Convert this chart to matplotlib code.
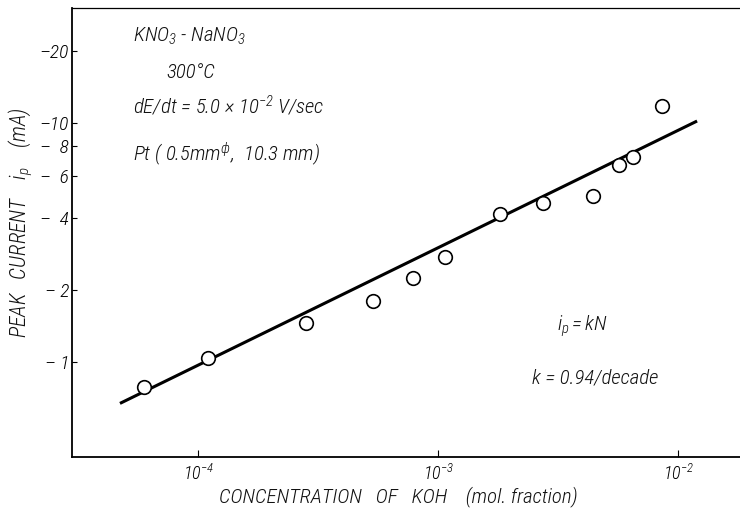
import matplotlib
matplotlib.use("Agg")
import matplotlib.pyplot as plt
from matplotlib import font_manager
from matplotlib.ticker import NullLocator

# Measured peak currents vs KOH concentration (KNO3-NaNO3 melt, 300 C)
koh_conc = [5.96e-5, 1.10e-4, 2.82e-4, 5.37e-4, 7.88e-4, 1.07e-3,
            1.82e-3, 2.73e-3, 4.42e-3, 5.69e-3, 6.51e-3, 8.61e-3]
peak_current = [0.79, 1.04, 1.46, 1.80, 2.24, 2.76,
                4.15, 4.64, 4.95, 6.67, 7.19, 11.8]

# Straight-line fit on the log-log plot
fit_conc = [4.73e-5, 1.20e-2]
fit_current = [0.672, 10.2]

y_ticks = [1, 2, 4, 6, 8, 10, 20]
y_tick_labels = ["\u2013 1", "\u2013 2", "\u2013  4", "\u2013  6", "\u2013  8",
                 "\u201310", "\u201320"]
x_ticks = [1e-4, 1e-3, 1e-2]
x_tick_labels = [r"$10^{-4}$", r"$10^{-3}$", r"$10^{-2}$"]

available = {f.name for f in font_manager.fontManager.ttflist}
family = "DejaVu Sans"
for cand in ["Liberation Sans Narrow", "Roboto Condensed", "Open Sans Condensed",
             "Liberation Sans"]:
    if cand in available:
        family = cand
        break

plt.rcParams.update({
    "font.family": [family, "DejaVu Sans"],
    "font.style": "italic",
    "font.weight": "light",
    "mathtext.fontset": "custom",
    "mathtext.rm": f"{family}:italic:light",
    "mathtext.it": f"{family}:italic:light",
    "mathtext.sf": f"{family}:italic:light",
})

W, H = 740, 511
fig = plt.figure(figsize=(W / 100, H / 100), dpi=100)
ax = fig.add_axes([72 / W, 54 / H, 668 / W, 449 / H])

ax.set_xscale("log")
ax.set_yscale("log")
ax.set_xlim(10 ** -4.525, 10 ** -1.742)
ax.set_ylim(0.401, 30.3)

ax.plot(fit_conc, fit_current, color="black", lw=2.2, solid_capstyle="butt", zorder=2)
ax.plot(koh_conc, peak_current, linestyle="none", marker="o", ms=9.8,
        mfc="white", mec="black", mew=1.2, zorder=3)

ax.xaxis.set_minor_locator(NullLocator())
ax.yaxis.set_minor_locator(NullLocator())
ax.set_xticks(x_ticks)
ax.set_xticklabels(x_tick_labels, fontsize=13)
ax.set_yticks(y_ticks)
ax.set_yticklabels(y_tick_labels, fontsize=14)
ax.tick_params(axis="x", direction="in", length=5, width=0.8, pad=5)
ax.tick_params(axis="y", direction="in", length=3.5, width=0.8, pad=2)

ax.spines["right"].set_visible(False)
for side in ("left", "bottom"):
    ax.spines[side].set_linewidth(1.3)
ax.spines["top"].set_linewidth(0.9)


def px(x, y):
    return x / W, 1 - y / H


txt = dict(ha="left", va="center", fontsize=15, color="#111111")
fig.text(*px(133, 36), r"KNO$_3$ - NaNO$_3$", **txt)
fig.text(*px(166, 73), "300\u00b0C", **txt)
fig.text(*px(133, 106), r"dE/dt = 5.0 $\times$ 10$^{-2}$ V/sec", **txt)
fig.text(*px(133, 154), r"Pt ( 0.5mm$^{\phi}$,  10.3 mm)", **txt)
fig.text(*px(557, 326), r"$i_p = kN$", **txt)
fig.text(*px(532, 378), "k = 0.94/decade", **txt)

fig.text(*px(398, 497), "CONCENTRATION   OF   KOH    (mol. fraction)",
         ha="center", va="center", fontsize=15, color="#111111")
fig.text(*px(21, 223), r"PEAK   CURRENT    $i_p$    (mA)",
         ha="center", va="center", rotation=90, fontsize=15.5, color="#111111")

fig.savefig("out.png", dpi=100)
